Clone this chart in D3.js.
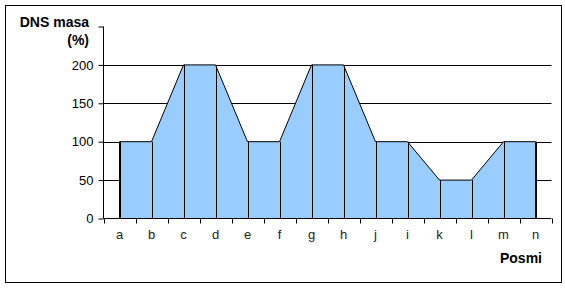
<!DOCTYPE html>
<html>
<head>
<meta charset="utf-8">
<script src="https://cdn.jsdelivr.net/npm/d3@7"></script>
<style>
  body { margin: 0; background: #fff; }
  svg text { font-family: Arial, "Liberation Sans", sans-serif; }
</style>
</head>
<body>
<div id="chart"></div>
<script>
// ---------- DATA ----------
const categories = ["a", "b", "c", "d", "e", "f", "g", "h", "j", "i", "k", "l", "m", "n"];
const values = [100, 100, 200, 200, 100, 100, 200, 200, 100, 100, 50, 50, 100, 100];
const yTicks = [0, 50, 100, 150, 200];
const gridTicks = [50, 100, 150, 200];

const W = 565, H = 288;

const svg = d3.select("#chart").append("svg")
  .attr("width", W)
  .attr("height", H);

// outer frame
svg.append("rect")
  .attr("x", 5.5).attr("y", 5.5)
  .attr("width", 556).attr("height", 277)
  .attr("fill", "#fff")
  .attr("stroke", "#000")
  .attr("stroke-width", 1);

// scales
const x = d3.scaleBand().domain(categories).range([103.5, 551.5]);
const y = d3.scaleLinear().domain([0, 250]).range([218.5, 26.5]);
const cx = d => x(d) + x.bandwidth() / 2;

// ---------- GRID ----------
svg.append("g")
  .selectAll("line")
  .data(gridTicks)
  .join("line")
  .attr("x1", 103.5).attr("x2", 551.5)
  .attr("y1", d => Math.round(y(d)) + 0.5)
  .attr("y2", d => Math.round(y(d)) + 0.5)
  .attr("stroke", "#000");

// ---------- AREA ----------
const pts = categories.map((c, i) => ({ c, v: values[i] }));

const area = d3.area()
  .x(d => cx(d.c))
  .y0(y(0))
  .y1(d => y(d.v));

svg.append("path")
  .datum(pts)
  .attr("d", area)
  .attr("fill", "#99ccff")
  .attr("stroke", "#000")
  .attr("stroke-width", 1);

// vertical drop lines
svg.append("g")
  .selectAll("line")
  .data(pts)
  .join("line")
  .attr("x1", d => Math.round(cx(d.c)) + 0.5)
  .attr("x2", d => Math.round(cx(d.c)) + 0.5)
  .attr("y1", d => y(d.v))
  .attr("y2", y(0))
  .attr("stroke", "#000");

// ---------- Y AXIS ----------
const yAxis = d3.axisLeft(y)
  .tickValues([0, 50, 100, 150, 200, 250])
  .tickSize(5)
  .tickPadding(5)
  .tickFormat(d => yTicks.includes(d) ? d : "");

const gy = svg.append("g")
  .attr("transform", "translate(103.5,0)")
  .call(yAxis);
gy.select(".domain").attr("d", `M0,${y(250)}V${y(0)}`).attr("stroke", "#000");
gy.selectAll(".tick line").attr("stroke", "#000");
gy.selectAll("text")
  .attr("font-size", 13)
  .attr("font-family", "Arial, 'Liberation Sans', sans-serif")
  .attr("fill", "#000");

// ---------- X AXIS ----------
svg.append("line")
  .attr("x1", 103.5).attr("x2", 551.5)
  .attr("y1", 218.5).attr("y2", 218.5)
  .attr("stroke", "#000");

const bounds = categories.map(c => x(c)).concat([x.range()[1]]);
svg.append("g")
  .selectAll("line")
  .data(bounds)
  .join("line")
  .attr("x1", d => Math.round(d) + 0.5)
  .attr("x2", d => Math.round(d) + 0.5)
  .attr("y1", 218.5).attr("y2", 223.5)
  .attr("stroke", "#000");

svg.append("g")
  .selectAll("text")
  .data(categories)
  .join("text")
  .attr("x", d => cx(d))
  .attr("y", 239)
  .attr("text-anchor", "middle")
  .attr("font-size", 13)
  .attr("fill", "#222")
  .text(d => d);

// ---------- TITLES ----------
svg.append("text")
  .attr("x", 89).attr("y", 27)
  .attr("text-anchor", "end")
  .attr("font-size", 14)
  .attr("font-weight", "bold")
  .text("DNS masa");

svg.append("text")
  .attr("x", 89).attr("y", 45)
  .attr("text-anchor", "end")
  .attr("font-size", 14)
  .attr("font-weight", "bold")
  .text("(%)");

svg.append("text")
  .attr("x", 542).attr("y", 263)
  .attr("text-anchor", "end")
  .attr("font-size", 14)
  .attr("font-weight", "bold")
  .text("Posmi");
</script>
</body>
</html>
